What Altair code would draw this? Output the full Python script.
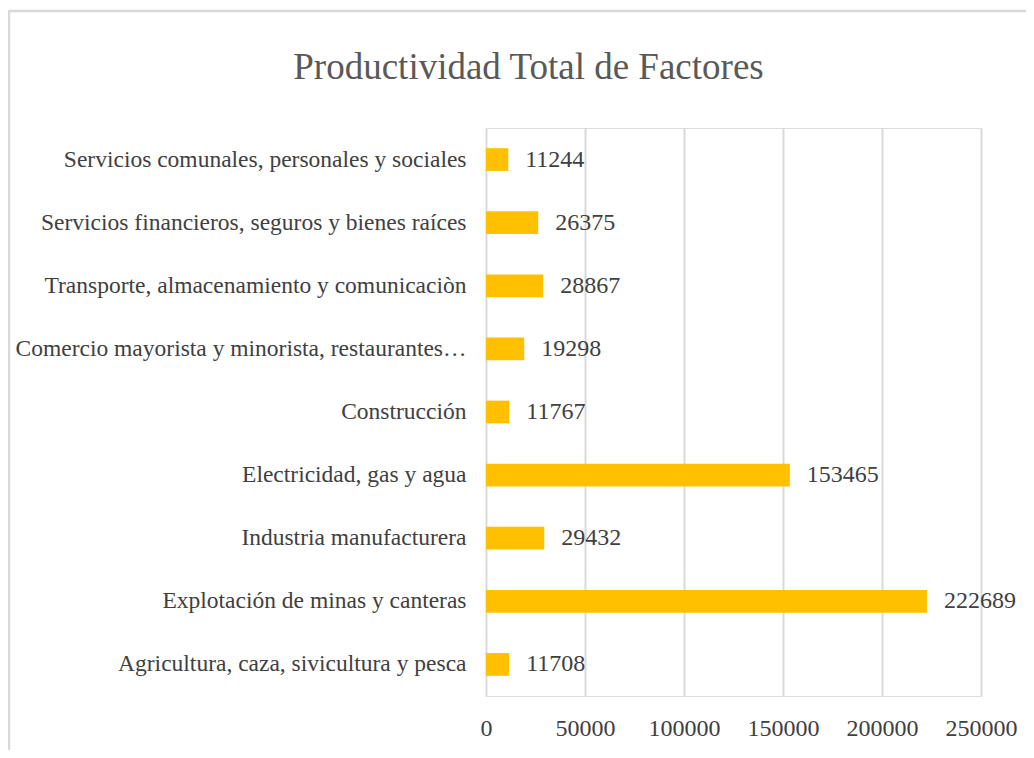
import altair as alt
import pandas as pd

categories = [
    "Servicios comunales, personales y sociales",
    "Servicios financieros, seguros y bienes raíces",
    "Transporte, almacenamiento y comunicaciòn",
    "Comercio mayorista y minorista, restaurantes…",
    "Construcción",
    "Electricidad, gas y agua",
    "Industria manufacturera",
    "Explotación de minas y canteras",
    "Agricultura, caza, sivicultura y pesca",
]
values = [11244, 26375, 28867, 19298, 11767, 153465, 29432, 222689, 11708]
x_ticks = [0, 50000, 100000, 150000, 200000, 250000]

df = pd.DataFrame({"sector": categories, "valor": values})

FONT = "Liberation Serif"
W, H = 495, 568
PAD_L, PAD_T, PAD_R, PAD_B = 478, 120, 45, 54

x_enc = alt.X(
    "valor:Q",
    scale=alt.Scale(domain=[0, 250000], nice=False),
    axis=alt.Axis(
        values=x_ticks,
        format="d",
        title=None,
        domain=False,
        ticks=False,
        labelPadding=20,
        labelFontSize=24,
        labelFont=FONT,
        labelColor="#404040",
        gridColor="#d9d9d9",
        gridWidth=2,
        labelFlush=False,
    ),
)
y_enc = alt.Y(
    "sector:N",
    sort=categories,
    scale=alt.Scale(paddingInner=0.64, paddingOuter=0.32),
    axis=alt.Axis(
        title=None,
        domain=False,
        ticks=False,
        grid=False,
        labelPadding=20,
        labelFontSize=23.5,
        labelFont=FONT,
        labelColor="#404040",
        labelLimit=0,
    ),
)

frame = alt.Chart(pd.DataFrame({"k": [0]})).mark_rect(
    fill="transparent", stroke="#d9d9d9", strokeWidth=2.5
).encode(
    x=alt.value(-(PAD_L - 1)),
    x2=alt.value(W + PAD_R + 20),
    y=alt.value(-(PAD_T - 3)),
    y2=alt.value(H + PAD_B + 20),
)

bars = alt.Chart(df).mark_bar(color="#FFC000").encode(x=x_enc, y=y_enc)

labels = alt.Chart(df).mark_text(
    align="left", baseline="middle", dx=17, fontSize=24, font=FONT, color="#404040"
).encode(x="valor:Q", y=alt.Y("sector:N", sort=categories), text="valor:Q")

chart = (
    alt.layer(frame, bars, labels)
    .properties(
        width=W,
        height=H,
        padding={"left": PAD_L, "top": PAD_T, "right": PAD_R, "bottom": PAD_B},
        autosize=alt.AutoSizeParams(type="none"),
        title=alt.TitleParams(
            "Productividad  Total  de  Factores",
            font=FONT,
            fontSize=37,
            fontWeight="normal",
            color="#595959",
            anchor="middle",
            dx=-205,
            offset=-106,
            baseline="alphabetic",
        ),
    )
    .configure_view(stroke=None)
    .configure(background="white")
)

chart.save("out.html", embed_options={"renderer": "svg", "actions": False})
